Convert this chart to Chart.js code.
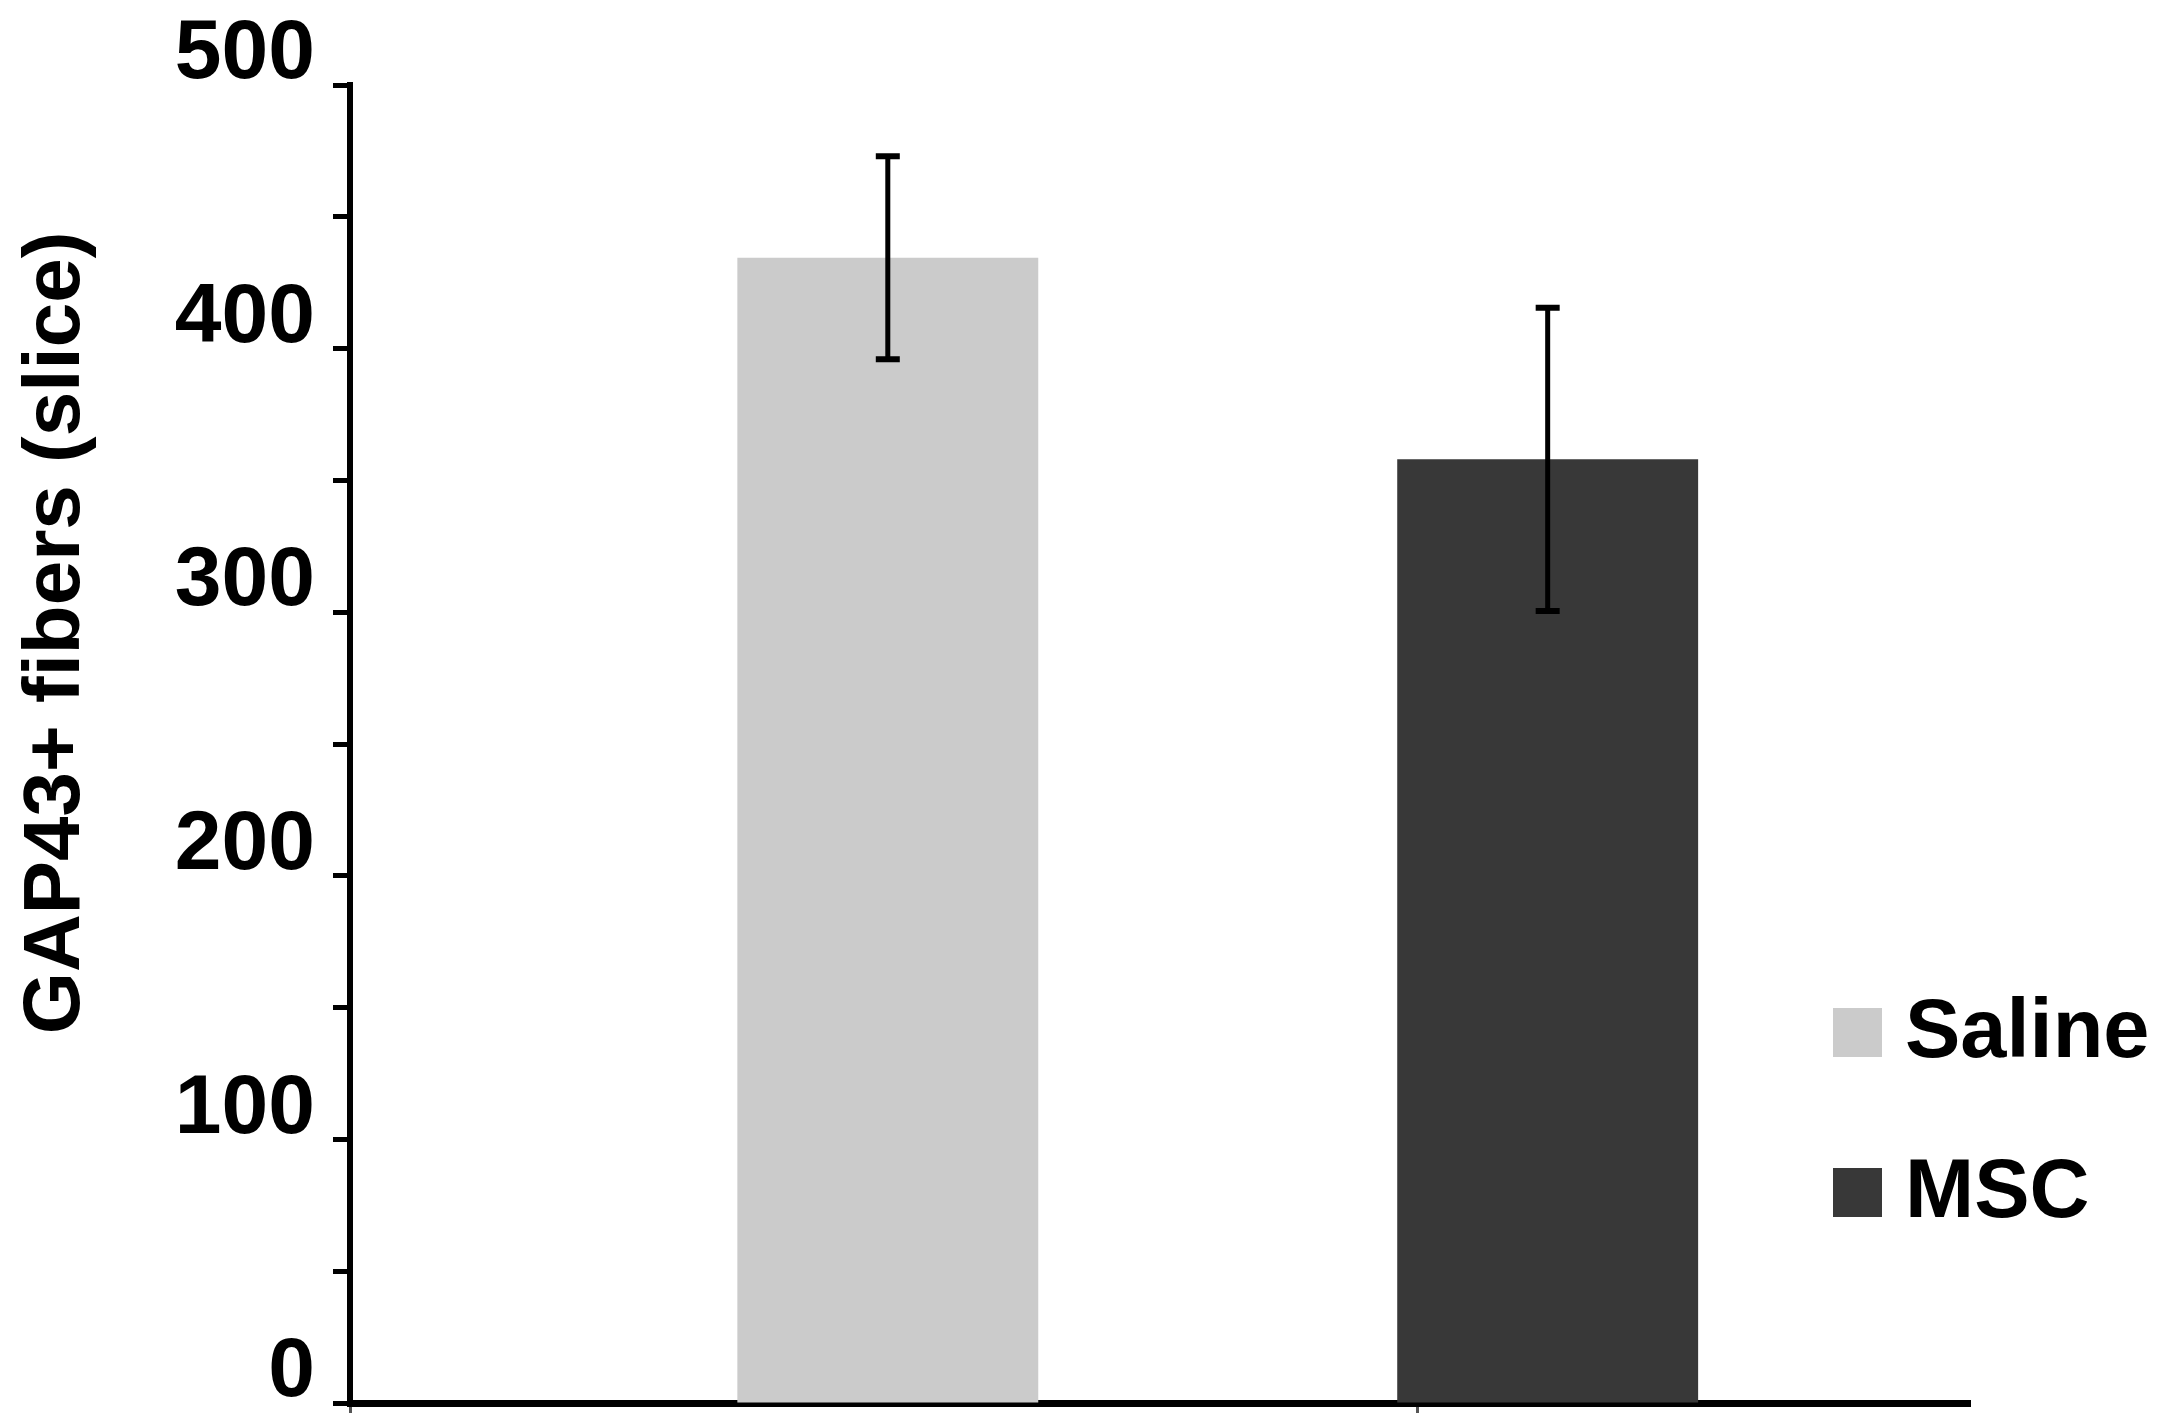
<!DOCTYPE html>
<html>
<head>
<meta charset="utf-8">
<script src="https://cdn.jsdelivr.net/npm/chart.js@4"></script>
<style>
  html, body { margin: 0; padding: 0; background: #fff; }
  #wrap { width: 2171px; height: 1421px; position: relative; }
</style>
</head>
<body>
<div id="wrap"><canvas id="myChart"></canvas></div>
<script>
// data
const categories = ['Saline', 'MSC'];
const means = [434.5, 358];
const errors = [38.5, 57.5];
const barColors = ['#cbcbcb', '#383838'];
const yTickLabels = [0, 100, 200, 300, 400, 500];
const yTitle = 'GAP43+ fibers (slice)';

const fontFam = '"Liberation Sans", Arial, Helvetica, sans-serif';

// error bars
const errorBars = {
    id: 'errorBars',
    afterDatasetsDraw(chart) {
        const ctx = chart.ctx;
        const y = chart.scales.y;
        ctx.save();
        ctx.strokeStyle = '#000';
        chart.data.datasets.forEach((ds, i) => {
            const bar = chart.getDatasetMeta(i).data[0];
            const top = y.getPixelForValue(means[i] + errors[i]);
            const bot = y.getPixelForValue(means[i] - errors[i]);
            ctx.lineWidth = 5;
            ctx.beginPath();
            ctx.moveTo(bar.x, top);
            ctx.lineTo(bar.x, bot);
            ctx.stroke();
            ctx.lineWidth = 6;
            ctx.beginPath();
            ctx.moveTo(bar.x - 12, top);
            ctx.lineTo(bar.x + 12, top);
            ctx.moveTo(bar.x - 12, bot);
            ctx.lineTo(bar.x + 12, bot);
            ctx.stroke();
        });
        ctx.restore();
    }
};

// legend sits inside the plot, lower right
const plotLegend = {
    id: 'plotLegend',
    afterDraw(chart) {
        const ctx = chart.ctx;
        const area = chart.chartArea;
        ctx.save();
        ctx.font = 'bold 83px ' + fontFam;
        ctx.textBaseline = 'middle';
        ctx.textAlign = 'left';
        chart.data.datasets.forEach((ds, i) => {
            const bx = area.right - 137;
            const by = area.bottom - 395 + i * 160;
            ctx.fillStyle = ds.backgroundColor;
            ctx.fillRect(bx, by, 49, 49);
            ctx.fillStyle = '#000';
            ctx.fillText(ds.label, bx + 72, by + 26);
        });
        ctx.restore();
    }
};

// y title (sits a bit above the axis centre in the original)
const sideTitle = {
    id: 'sideTitle',
    afterDraw(chart) {
        const ctx = chart.ctx;
        ctx.save();
        ctx.translate(57, 633);
        ctx.rotate(-Math.PI / 2);
        ctx.font = 'bold 80px ' + fontFam;
        ctx.fillStyle = '#000';
        ctx.textAlign = 'center';
        ctx.textBaseline = 'middle';
        ctx.fillText(yTitle, 0, 0);
        ctx.restore();
    }
};

const ctx = document.getElementById('myChart');

new Chart(ctx, {
    type: 'bar',
    data: {
        datasets: categories.map((c, i) => ({
            label: c,
            data: [{ x: i, y: means[i] }],
            backgroundColor: barColors[i],
            borderWidth: 0
        }))
    },
    options: {
        responsive: true,
        maintainAspectRatio: false,
        animation: false,
        grouped: false,
        categoryPercentage: 1,
        barPercentage: 0.456,
        layout: { padding: { left: 0, top: 85, right: 201, bottom: 0 } },
        plugins: {
            legend: { display: false },
            tooltip: { enabled: false }
        },
        scales: {
            x: {
                type: 'linear',
                offset: false,
                min: -0.815,
                max: 1.64,
                afterBuildTicks: (scale) => {
                    scale.ticks = [{ value: -0.815 }, { value: 0.803 }];
                },
                afterFit: (scale) => { scale.height = 18; },
                ticks: { display: false },
                grid: {
                    offset: false,
                    drawOnChartArea: false,
                    tickLength: 10,
                    tickWidth: 3,
                    tickColor: '#555'
                },
                border: { color: '#000', width: 7 }
            },
            y: {
                min: 0,
                max: 500,
                afterFit: (scale) => {
                    scale.width = 350;
                    scale.paddingTop = 0;
                    scale.paddingBottom = 0;
                },
                ticks: {
                    stepSize: 50,
                    padding: 18,
                    labelOffset: -30,
                    color: '#000',
                    font: { family: fontFam, size: 84, weight: 'bold' },
                    callback: (v) => yTickLabels.includes(v) ? v : ''
                },
                grid: {
                    drawOnChartArea: false,
                    tickLength: 17,
                    tickWidth: 5,
                    tickColor: '#000'
                },
                border: { color: '#000', width: 6 }
            }
        }
    },
    plugins: [errorBars, plotLegend, sideTitle]
});
</script>
</body>
</html>
